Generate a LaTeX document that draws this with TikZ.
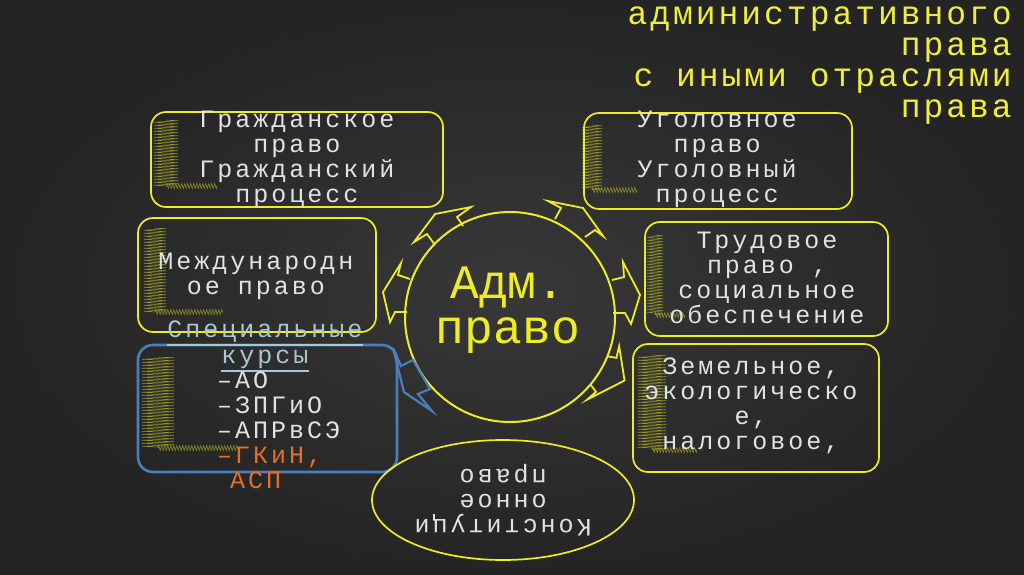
\documentclass[tikz,border=0pt]{standalone}
\usepackage{fontspec}
\usetikzlibrary{shapes.geometric,calc,decorations.pathmorphing}
\newfontfamily\boxfont[LetterSpace=12]{Liberation Mono}
\newfontfamily\titlefont[LetterSpace=9]{Liberation Mono}
\newfontfamily\bigfont{Liberation Mono}
\definecolor{boardc}{RGB}{56,56,56}
\definecolor{boarde}{RGB}{36,36,36}
\definecolor{chalkyellow}{RGB}{238,236,36}
\definecolor{titleyellow}{RGB}{240,238,60}
\definecolor{chalkwhite}{RGB}{226,226,226}
\definecolor{chalkblue}{RGB}{74,126,187}
\definecolor{chalkorange}{RGB}{226,112,40}
\definecolor{headblue}{RGB}{170,198,206}
\definecolor{scribA}{RGB}{150,150,36}
\newcommand\chalkL[5]{%
  \draw[scrib=#5] (#1,#2) -- (#1,#3);
  \draw[scrib=2.5pt] (#1,#3) -- (#4,#3);
}
\begin{document}
\begin{tikzpicture}[x=1pt,y=-1pt,
  ybox/.style={draw=chalkyellow, line width=1.7pt, rounded corners=15pt},
  bbox/.style={draw=chalkblue, line width=2.6pt, rounded corners=15pt},
  txt/.style={font=\boxfont\fontsize{25}{25}\selectfont, inner sep=0pt},
  boxtext/.style={txt, text=chalkwhite, align=center},
  yarrow/.style={draw=chalkyellow, line width=1.8pt, line join=miter},
  barrow/.style={draw=chalkblue, line width=2.2pt, line join=miter},
  scrib/.style={draw=scribA, line width=0.5pt, decorate, decoration={zigzag, segment length=3pt, amplitude=#1}},
]
\useasboundingbox (0,0) rectangle (1024,574);
\shade[inner color=boardc, outer color=boarde, shading=radial] (0,0) rectangle (1024,574);

% title
\node[anchor=north east, align=right, text=titleyellow, font=\titlefont\fontsize{33}{31}\selectfont, inner sep=0pt] (title) at (1012,7) {административного\\права\\с иными отраслями\\права};

% scribbles
\chalkL{166}{120}{186}{217}{12pt}
\chalkL{155}{228}{312}{223}{11pt}
\chalkL{158}{357}{448}{240}{16pt}
\chalkL{592}{125}{190}{637}{10pt}
\chalkL{655}{235}{315}{685}{8pt}
\chalkL{652}{355}{450}{697}{14pt}

% boxes
\draw[ybox] (151,112) rectangle (443,207);
\node[boxtext] (civ) at (297,159) {Гражданское\\право\\Гражданский\\процесс};
\draw[ybox] (138,218) rectangle (376,332);
\node[boxtext] (intl) at (256,276) {Международн\\ое право};
\draw[ybox] (584,113) rectangle (852,209);
\node[boxtext] (crim) at (717,159) {Уголовное\\право\\Уголовный\\процесс};
\draw[ybox] (645,222) rectangle (888,336);
\node[boxtext] (lab) at (767,278) {Трудовое\\право ,\\социальное\\обеспечение};
\draw[ybox] (633,344) rectangle (879,472);
\node[boxtext] (land) at (751,406) {Земельное,\\экологическо\\е,\\налоговое,};

% special courses
\draw[bbox] (138,345) rectangle (397,472);
\node[txt, text=headblue, anchor=base] (sp) at (265,337) {Специальные};
\node[txt, text=headblue, anchor=base] (ku) at (265,363) {курсы};
\draw[headblue, line width=1.2pt] ([yshift=-8pt]sp.base west) -- ([yshift=-8pt]sp.base east);
\draw[headblue, line width=1.2pt] ([yshift=-8pt]ku.base west) -- ([yshift=-8pt]ku.base east);
\node[txt, anchor=north west, align=left, text=chalkwhite] (sk) at (217,372) {–АО\\–ЗПГиО\\–АПРвСЭ\\\textcolor{chalkorange}{–ГКиН,}\\\textcolor{chalkorange}{\hspace{13pt}АСП}};

% central circle
\node[draw=chalkyellow, line width=2pt, circle, minimum size=210pt, inner sep=0pt] (adm) at (510,317) {};
\node[text=chalkyellow, align=center, font=\bigfont\fontsize{48}{45}\selectfont, inner sep=0pt] (admt) at (508,310) {Адм.\\право};

% constitutional law ellipse
\node[draw=chalkyellow, line width=1.7pt, ellipse, minimum width=262pt, minimum height=120pt, inner sep=0pt, rotate=180, boxtext] (kon) at (503,500) {Конституци\\онное\\право};

% block arrows
\draw[yarrow] (435,245) -- (427,234) -- (414,242) -- (435,214) -- (471,207) -- (457,217) -- (463,226);
\draw[yarrow] (555,219) -- (561,208) -- (548,201) -- (583,208) -- (603,236) -- (595,230) -- (585,237);
\draw[yarrow] (410,279) -- (398,275) -- (401,263) -- (383,292) -- (390,322) -- (395,312) -- (407,312);
\draw[yarrow] (612,280) -- (624,277) -- (623,262) -- (640,295) -- (631,324) -- (625,313) -- (613,313);
\draw[yarrow] ($(adm.center)+(22:105)$) -- ($(adm.center)+(21:114)$) -- ($(adm.center)+(15:113)$) -- ($(adm.center)+(29:131)$) -- ($(adm.center)+(47:113)$) -- ($(adm.center)+(41:114)$) -- ($(adm.center)+(40:105)$);
\draw[barrow] (393,348) -- (401,366) -- (413,360) -- (430,389) -- (418,394) -- (432,411) -- (404,392) -- cycle;
\end{tikzpicture}
\end{document}
